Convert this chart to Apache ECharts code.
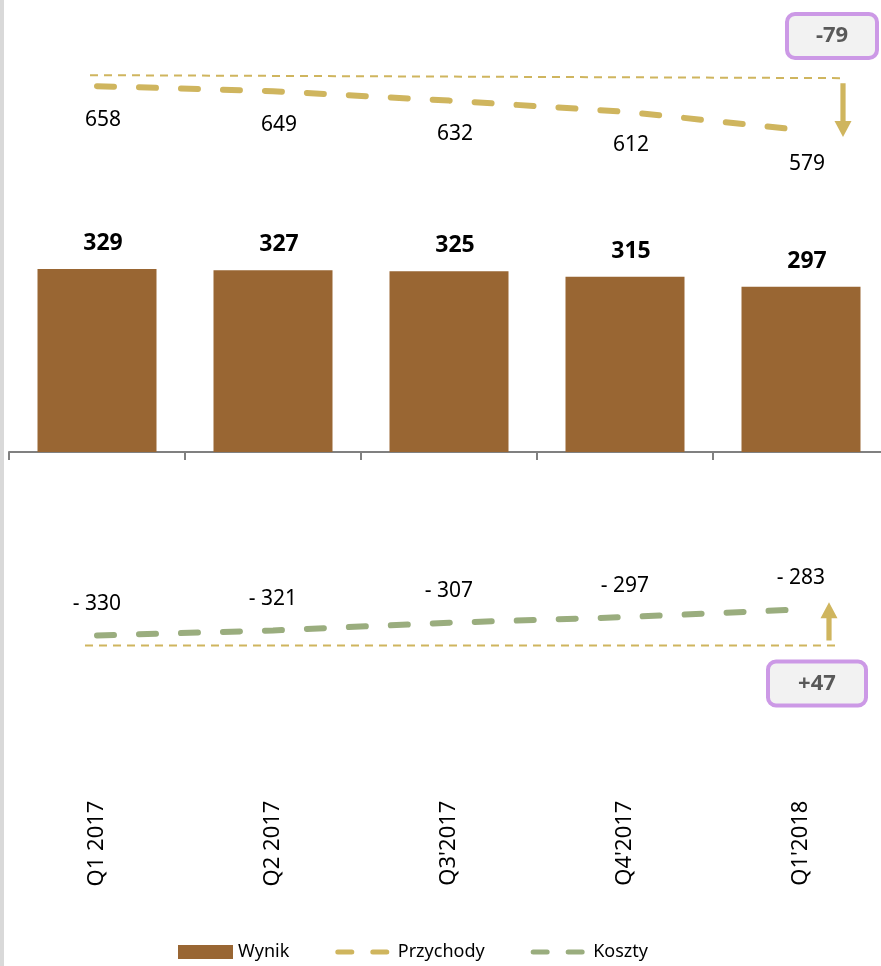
<!DOCTYPE html>
<html>
<head>
<meta charset="utf-8">
<script src="https://cdn.jsdelivr.net/npm/echarts@6/dist/echarts.min.js"></script>
<style>
html,body{margin:0;padding:0;background:#fff;}
#c{width:881px;height:966px;}
</style>
</head>
<body>
<div id="c"></div>
<script>
const categories = ['Q1 2017', 'Q2 2017', "Q3'2017", "Q4'2017", "Q1'2018"];
const wynik = [329, 327, 325, 315, 297];
const przychody = [658, 649, 632, 612, 579];
const koszty = [-330, -321, -307, -297, -283];
const seriesNames = ['Wynik', 'Przychody', 'Koszty'];

const FONT = '"Noto Sans", "Open Sans", sans-serif';
const C_BAR = '#996633';
const C_PRZ = '#cfb55e';
const C_KOS = '#9aad7e';

const chart = echarts.init(document.getElementById('c'), null, {renderer: 'canvas'});

const option = {
  animation: false,
  backgroundColor: '#ffffff',
  textStyle: {fontFamily: FONT},
  grid: {left: 9, width: 880, top: 7.2, height: 778.4, outerBoundsMode: 'none', containLabel: false},
  legend: {
    left: 178, top: 943, padding: 0,
    itemWidth: 55, itemHeight: 14, itemGap: 46,
    textStyle: {fontFamily: FONT, fontSize: 18, color: '#000'},
    data: [
      {name: 'Wynik', icon: 'rect'},
      {name: 'Przychody', itemStyle: {opacity: 0}, lineStyle: {type: [14, 21], width: 5, cap: 'round', color: C_PRZ}},
      {name: 'Koszty', itemStyle: {opacity: 0}, lineStyle: {type: [14, 21], width: 5, cap: 'round', color: C_KOS}}
    ]
  },
  xAxis: [
    {
      type: 'category', data: categories, position: 'bottom',
      axisLine: {onZero: true, lineStyle: {color: '#808080', width: 2}},
      axisTick: {show: true, length: 8, lineStyle: {color: '#808080', width: 2}},
      axisLabel: {show: false}
    },
    {
      type: 'category', data: categories, position: 'bottom',
      axisLine: {show: false}, axisTick: {show: false},
      axisLabel: {rotate: 90, margin: 15, fontFamily: FONT, fontSize: 22, color: '#000'}
    }
  ],
  yAxis: {type: 'value', min: -600, max: 800, show: false, splitLine: {show: false}},
  series: [
    {
      name: seriesNames[0], type: 'bar', data: wynik, barWidth: 119,
      itemStyle: {color: C_BAR},
      label: {show: true, position: 'top', distance: 14, offset: [6, 0],
        fontFamily: FONT, fontSize: 23, fontWeight: 'bold', color: '#000'}
    },
    {
      name: seriesNames[1], type: 'line', data: przychody, symbol: 'circle', symbolSize: 0,
      lineStyle: {color: C_PRZ, width: 6, type: [17, 25], cap: 'round'},
      itemStyle: {color: C_PRZ},
      label: {show: true, position: 'bottom', distance: 23, offset: [6, 0],
        fontFamily: FONT, fontSize: 21, color: '#000'}
    },
    {
      name: seriesNames[2], type: 'line', data: koszty, symbol: 'circle', symbolSize: 0,
      lineStyle: {color: C_KOS, width: 6, type: [17, 25], cap: 'round'},
      itemStyle: {color: C_KOS},
      label: {show: true, position: 'top', distance: 21,
        fontFamily: FONT, fontSize: 21, color: '#000',
        formatter: p => '- ' + Math.abs(p.value)}
    }
  ]
};
chart.setOption(option);

// annotations placed relative to data points
const px = (i, v) => chart.convertToPixel({xAxisIndex: 0, yAxisIndex: 0}, [i, v]);
const n = categories.length - 1;
const pFirst = px(0, przychody[0]);
const pLast = px(n, przychody[n]);
const kFirst = px(0, koszty[0]);
const kLast = px(n, koszty[n]);
const dPrz = przychody[n] - przychody[0];
const dKos = koszty[n] - koszty[0];
const fmtDelta = d => (d > 0 ? '+' : '') + d;

function arrow(x, y0, y1) {
  const dir = y1 > y0 ? 1 : -1;
  const headLen = 16, hw = 8.5, sw = 2.6;
  const yb = y1 - dir * headLen;
  return {
    type: 'polygon',
    shape: {points: [[x - sw, y0], [x + sw, y0], [x + sw, yb], [x + hw, yb], [x, y1], [x - hw, yb], [x - sw, yb]]},
    style: {fill: C_PRZ}
  };
}
function box(x0, y0, x1, y1, text) {
  return [
    {type: 'rect', shape: {x: x0, y: y0, width: x1 - x0, height: y1 - y0, r: 8},
      style: {fill: '#f2f2f2', stroke: '#cc99e6', lineWidth: 4}},
    {type: 'text', x: (x0 + x1) / 2, y: (y0 + y1) / 2,
      style: {text: text, fill: '#595959', font: 'bold 22px ' + FONT, align: 'center', verticalAlign: 'middle'}}
  ];
}

const topLineY0 = pFirst[1] - 11, topLineY1 = pFirst[1] - 8;
const arrowTopX = pLast[0] + 42;
const botLineY = kFirst[1] + 10;
const arrowBotX = kLast[0] + 28;

const graphics = [
  {type: 'rect', shape: {x: 0, y: 0, width: 4, height: 966}, style: {fill: '#d9d9d9'}},
  {type: 'line', shape: {x1: pFirst[0] - 7, y1: topLineY0, x2: arrowTopX, y2: topLineY1},
    style: {stroke: C_PRZ, lineWidth: 2, lineDash: [8, 6]}},
  arrow(arrowTopX, topLineY1 + 5, pLast[1] + 7),
  ...box(arrowTopX - 56, 14, arrowTopX + 34, 58, fmtDelta(dPrz)),
  {type: 'line', shape: {x1: kFirst[0] - 12, y1: botLineY, x2: arrowBotX + 7, y2: botLineY},
    style: {stroke: C_PRZ, lineWidth: 2, lineDash: [8, 6]}},
  arrow(arrowBotX, botLineY - 5, kLast[1] - 7),
  ...box(arrowBotX - 61, botLineY + 16, arrowBotX + 37, botLineY + 60, fmtDelta(dKos))
];
chart.setOption({graphic: graphics});
</script>
</body>
</html>
